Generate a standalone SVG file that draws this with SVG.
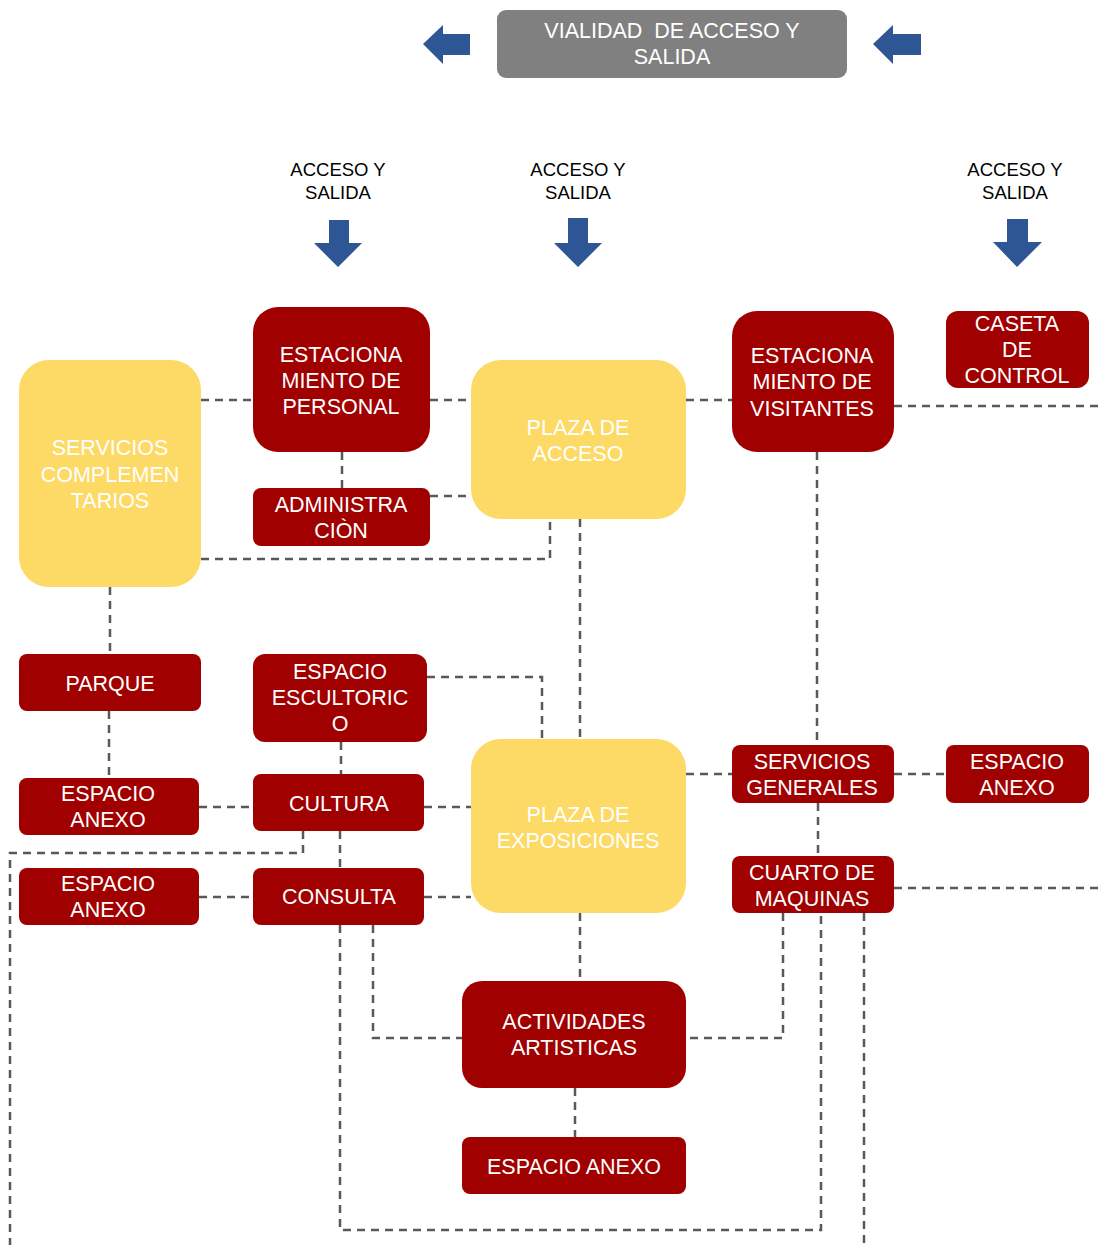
<svg xmlns="http://www.w3.org/2000/svg" width="1099" height="1245" viewBox="0 0 1099 1245">
<style>
.red{fill:#A00000}
.yel{fill:#FDD966}
.gray{fill:#808080}
.t{font-family:"Liberation Sans",Arial,sans-serif;font-size:21.5px;fill:#FFFFFF;text-anchor:middle}
.lbl{font-family:"Liberation Sans",Arial,sans-serif;font-size:18.5px;fill:#000000;text-anchor:middle}
.arr{fill:#2E5594}
.c{fill:none;stroke:#595959;stroke-width:2.5;stroke-dasharray:8 6}
</style>
<rect width="1099" height="1245" fill="#FFFFFF"/>
<g id="connectors">
<path class="c" d="M201 400H253"/>
<path class="c" d="M430 400H471"/>
<path class="c" d="M686 400H732"/>
<path class="c" d="M894 406H1099"/>
<path class="c" d="M342 452V488"/>
<path class="c" d="M430 496H471"/>
<path class="c" d="M201 559H550V519"/>
<path class="c" d="M580 519V739"/>
<path class="c" d="M817 452V745"/>
<path class="c" d="M818 803V856"/>
<path class="c" d="M340 925V1230H821V913"/>
<path class="c" d="M110 587V654"/>
<path class="c" d="M109 711V778"/>
<path class="c" d="M427 677H542V739"/>
<path class="c" d="M341 742V774"/>
<path class="c" d="M199 807H253"/>
<path class="c" d="M424 807H471"/>
<path class="c" d="M303 831V853H10V1245"/>
<path class="c" d="M340 831V868"/>
<path class="c" d="M199 897H253"/>
<path class="c" d="M424 897H471"/>
<path class="c" d="M373 925V1038H462"/>
<path class="c" d="M580 913V981"/>
<path class="c" d="M686 774H732"/>
<path class="c" d="M894 774H946"/>
<path class="c" d="M894 888H1099"/>
<path class="c" d="M783 913V1038H686"/>
<path class="c" d="M864 913V1245"/>
<path class="c" d="M575 1088V1137"/>
</g>
<g id="vialidad">
<rect class="gray" x="497" y="10" width="350" height="68" rx="9"/>
<text class="t" x="672" y="38" xml:space="preserve">VIALIDAD  DE ACCESO Y</text>
<text class="t" x="672" y="64">SALIDA</text>
</g>
<g id="arrow-left"><polygon class="arr" points="423,44 443,25 443,34 470,34 470,55 443,55 443,64"/></g>
<g id="arrow-right"><polygon class="arr" points="873,44 893,25 893,34 921,34 921,55 893,55 893,64"/></g>
<g id="acceso1">
<text class="lbl" x="338" y="176">ACCESO Y</text>
<text class="lbl" x="338" y="199">SALIDA</text>
<polygon class="arr" points="329,220 349,220 349,243 362,243 338,267 314,243 329,243"/>
</g>
<g id="acceso2">
<text class="lbl" x="578" y="176">ACCESO Y</text>
<text class="lbl" x="578" y="199">SALIDA</text>
<polygon class="arr" points="568,218 588,218 588,243 602,243 578,267 554,243 568,243"/>
</g>
<g id="acceso3">
<text class="lbl" x="1015" y="176">ACCESO Y</text>
<text class="lbl" x="1015" y="199">SALIDA</text>
<polygon class="arr" points="1007,219 1028,219 1028,242 1042,242 1017,267 993,242 1007,242"/>
</g>
<g id="servicios-complementarios">
<rect class="yel" x="19" y="360" width="182" height="227" rx="30"/>
<text class="t" x="110" y="455">SERVICIOS</text>
<text class="t" x="110" y="482">COMPLEMEN</text>
<text class="t" x="110" y="508">TARIOS</text>
</g>
<g id="est-personal">
<rect class="red" x="253" y="307" width="177" height="145" rx="25"/>
<text class="t" x="341" y="362">ESTACIONA</text>
<text class="t" x="341" y="388">MIENTO DE</text>
<text class="t" x="341" y="414">PERSONAL</text>
</g>
<g id="administracion">
<rect class="red" x="253" y="488" width="177" height="58" rx="8"/>
<text class="t" x="341" y="512">ADMINISTRA</text>
<text class="t" x="341" y="538">CIÒN</text>
</g>
<g id="plaza-acceso">
<rect class="yel" x="471" y="360" width="215" height="159" rx="30"/>
<text class="t" x="578" y="435">PLAZA DE</text>
<text class="t" x="578" y="461">ACCESO</text>
</g>
<g id="est-visitantes">
<rect class="red" x="732" y="311" width="162" height="141" rx="25"/>
<text class="t" x="812" y="363">ESTACIONA</text>
<text class="t" x="812" y="389">MIENTO DE</text>
<text class="t" x="812" y="416">VISITANTES</text>
</g>
<g id="caseta">
<rect class="red" x="946" y="311" width="143" height="77" rx="12"/>
<text class="t" x="1017" y="331">CASETA</text>
<text class="t" x="1017" y="357">DE</text>
<text class="t" x="1017" y="383">CONTROL</text>
</g>
<g id="parque">
<rect class="red" x="19" y="654" width="182" height="57" rx="8"/>
<text class="t" x="110" y="691">PARQUE</text>
</g>
<g id="escultorico">
<rect class="red" x="253" y="654" width="174" height="88" rx="12"/>
<text class="t" x="340" y="679">ESPACIO</text>
<text class="t" x="340" y="705">ESCULTORIC</text>
<text class="t" x="340" y="731">O</text>
</g>
<g id="anexo1">
<rect class="red" x="19" y="778" width="180" height="57" rx="8"/>
<text class="t" x="108" y="801">ESPACIO</text>
<text class="t" x="108" y="827">ANEXO</text>
</g>
<g id="cultura">
<rect class="red" x="253" y="774" width="171" height="57" rx="8"/>
<text class="t" x="339" y="811">CULTURA</text>
</g>
<g id="plaza-exposiciones">
<rect class="yel" x="471" y="739" width="215" height="174" rx="30"/>
<text class="t" x="578" y="822">PLAZA DE</text>
<text class="t" x="578" y="848">EXPOSICIONES</text>
</g>
<g id="servicios-generales">
<rect class="red" x="732" y="745" width="162" height="58" rx="8"/>
<text class="t" x="812" y="769">SERVICIOS</text>
<text class="t" x="812" y="795">GENERALES</text>
</g>
<g id="anexo-derecho">
<rect class="red" x="946" y="745" width="143" height="58" rx="8"/>
<text class="t" x="1017" y="769">ESPACIO</text>
<text class="t" x="1017" y="795">ANEXO</text>
</g>
<g id="anexo2">
<rect class="red" x="19" y="868" width="180" height="57" rx="8"/>
<text class="t" x="108" y="891">ESPACIO</text>
<text class="t" x="108" y="917">ANEXO</text>
</g>
<g id="consulta">
<rect class="red" x="253" y="868" width="171" height="57" rx="8"/>
<text class="t" x="339" y="904">CONSULTA</text>
</g>
<g id="cuarto-maquinas">
<rect class="red" x="732" y="856" width="162" height="57" rx="8"/>
<text class="t" x="812" y="880">CUARTO DE</text>
<text class="t" x="812" y="906">MAQUINAS</text>
</g>
<g id="actividades">
<rect class="red" x="462" y="981" width="224" height="107" rx="20"/>
<text class="t" x="574" y="1029">ACTIVIDADES</text>
<text class="t" x="574" y="1055">ARTISTICAS</text>
</g>
<g id="anexo-inferior">
<rect class="red" x="462" y="1137" width="224" height="57" rx="8"/>
<text class="t" x="574" y="1174">ESPACIO ANEXO</text>
</g>
</svg>
